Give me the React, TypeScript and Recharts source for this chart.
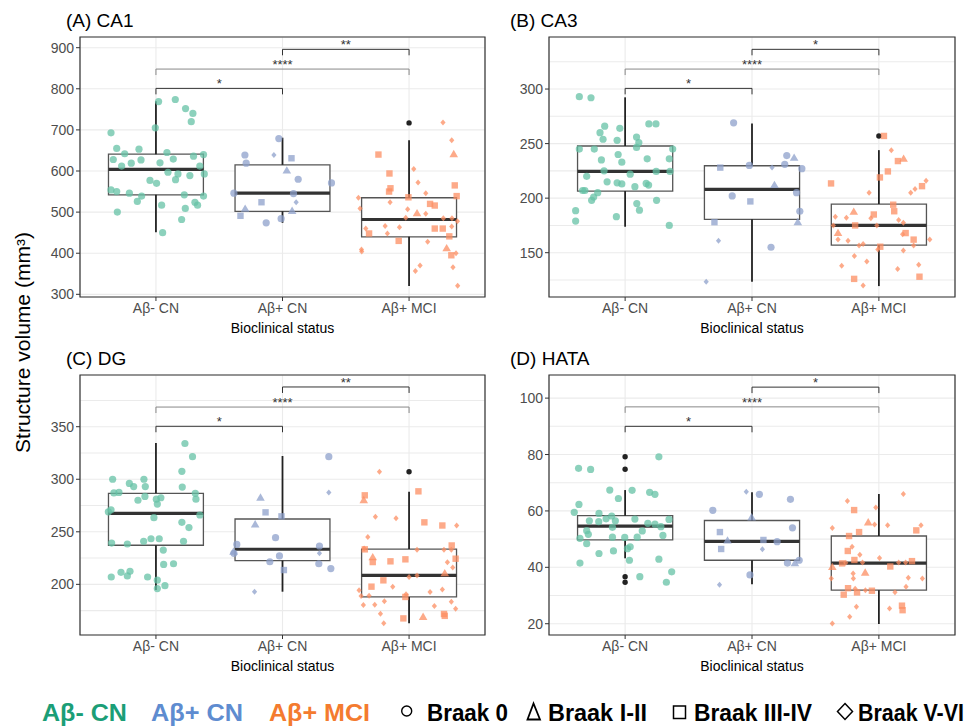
import React from 'react';
import {
  ComposedChart,
  Scatter,
  XAxis,
  YAxis,
  CartesianGrid,
  ReferenceArea,
  ReferenceLine,
  ReferenceDot
} from 'recharts';

const FONT = "'Liberation Sans', Arial, Helvetica, sans-serif";

const groups = ['Aβ- CN', 'Aβ+ CN', 'Aβ+ MCI'];
const pointColors = ['#66C2A5', '#8DA0CB', '#FC8D62'];
const legendColors = ['#1B9E77', '#5E8CD0', '#F47B2F'];
const braakLabels = ['Braak 0', 'Braak I-II', 'Braak III-IV', 'Braak V-VI'];
const pairs = [[1, 2], [1, 3], [2, 3]];

// points: [jitter, value, braak]  braak: 0 = 0, 1 = I-II, 2 = III-IV, 3 = V-VI
// stats: [lower whisker, q1, median, q3, upper whisker]

// (A) CA1
const ca1Cn = [
  [-0.355, 693, 0], [-0.31, 655, 0], [-0.337, 628, 0], [-0.247, 642, 0], [-0.134, 653, 0], [-0.271, 612, 0],
  [-0.195, 619, 0], [-0.118, 627, 0], [-0.355, 554, 0], [-0.31, 550, 0], [-0.21, 546, 0], [-0.113, 539, 0],
  [-0.147, 526, 0], [-0.305, 500, 0], [-0.047, 577, 0], [0.005, 570, 0], [0.021, 769, 0], [0.153, 774, 0],
  [0.234, 752, 0], [0.292, 740, 0], [0.279, 720, 0], [-0.005, 705, 0], [0.087, 645, 0], [0.032, 620, 0],
  [0.137, 629, 0], [0.095, 597, 0], [0.174, 593, 0], [0.155, 579, 0], [0.268, 589, 0], [0.297, 636, 0],
  [0.376, 640, 0], [0.347, 612, 0], [0.382, 593, 0], [0.224, 542, 0], [0.376, 539, 0], [0.308, 524, 0],
  [0.329, 517, 0], [0.232, 509, 0], [0.045, 517, 0], [0.203, 482, 0], [0.053, 450, 0]
];
const ca1PosCn = [
  [-0.297, 639, 0], [-0.287, 619, 0], [-0.384, 546, 0], [-0.332, 491, 2], [-0.295, 508, 1], [-0.166, 524, 2],
  [-0.129, 474, 0], [-0.068, 639, 3], [-0.029, 679, 0], [-0.011, 484, 0], [0.071, 631, 2], [0.034, 601, 1],
  [0.124, 580, 0], [0.087, 545, 0], [0.108, 524, 3], [0.076, 503, 1], [0.387, 571, 0]
];
const ca1Mci = [
  [-0.242, 640, 2], [-0.155, 594, 2], [-0.147, 558, 2], [-0.158, 550, 2], [-0.005, 536, 2], [0.037, 605, 3],
  [0.071, 572, 3], [0.132, 546, 3], [0.268, 718, 3], [0.337, 675, 3], [0.353, 641, 1], [0.361, 565, 2],
  [0.376, 539, 2], [0.166, 520, 2], [0.203, 516, 2], [0.063, 497, 1], [0.132, 496, 3], [-0.011, 507, 3],
  [-0.026, 486, 3], [-0.15, 524, 3], [-0.4, 535, 3], [-0.387, 509, 3], [-0.342, 460, 3], [-0.316, 448, 2],
  [-0.189, 466, 3], [-0.171, 448, 3], [-0.076, 463, 3], [-0.082, 430, 2], [0.147, 428, 3], [0.203, 460, 2],
  [0.266, 460, 2], [0.271, 485, 3], [0.339, 485, 3], [0.382, 478, 3], [0.337, 465, 3], [0.318, 441, 2],
  [0.297, 412, 1], [0.334, 395, 2], [0.371, 400, 3], [-0.376, 409, 3], [-0.374, 404, 3], [0.087, 370, 3],
  [0.05, 357, 3], [0.347, 366, 3], [0.384, 321, 3]
];
const ca1Stats = [[451, 542, 604, 641, 770], [474, 502, 546, 615, 681], [320, 440, 482, 535, 675]];
const ca1Outliers = [[3, 717]];
const ca1Sig = [801, 848, 896];
const ca1Stars = ['*', '****', '**'];
const ca1Major = [300, 400, 500, 600, 700, 800, 900];
const ca1Minor = [350, 450, 550, 650, 750, 850];

// (B) CA3
const ca3Cn = [
  [-0.361, 293, 0], [-0.269, 292, 0], [-0.39, 188.5, 0], [-0.39, 179, 0], [-0.361, 245, 0], [-0.243, 245, 0],
  [-0.161, 266, 0], [-0.198, 260, 0], [-0.174, 254, 0], [-0.187, 235, 0], [-0.042, 264, 0], [-0.063, 253, 0],
  [-0.055, 240, 0], [-0.026, 233, 0], [-0.166, 225, 0], [-0.303, 220, 0], [-0.335, 207, 0], [-0.317, 207, 0],
  [-0.142, 215, 0], [-0.063, 214, 0], [-0.026, 213, 0], [-0.216, 205, 0], [-0.248, 201, 0], [-0.264, 198, 0],
  [-0.069, 183, 0], [0.09, 256, 0], [0.108, 251, 0], [0.09, 246.5, 0], [0.187, 268, 0], [0.243, 268, 0],
  [0.174, 236, 0], [0.04, 222, 0], [0.077, 210.5, 0], [0.166, 213.5, 0], [0.185, 212, 0], [0.092, 195, 0],
  [0.113, 189, 0], [0.248, 198, 0], [0.348, 175, 0], [0.375, 245, 0], [0.348, 236, 0], [0.354, 224.5, 0],
  [0.245, 224.5, 0]
];
const ca3PosCn = [
  [-0.145, 269, 0], [-0.25, 228, 2], [-0.156, 202, 0], [-0.013, 197, 2], [-0.296, 178, 2], [-0.264, 161, 3],
  [-0.361, 123.4, 3], [-0.021, 230, 0], [0.158, 228, 3], [0.177, 212, 1], [0.15, 155, 0], [0.274, 239, 0],
  [0.258, 231, 0], [0.332, 237, 1], [0.393, 227, 0], [0.351, 205, 0], [0.377, 188, 0], [0.361, 178, 1]
];
const ca3Mci = [
  [-0.377, 213.5, 2], [0.04, 257, 2], [0.098, 244, 3], [0.15, 234, 2], [0.195, 236, 1], [0.071, 224.5, 2],
  [0.008, 219, 2], [-0.077, 205, 3], [0.113, 194, 2], [0.121, 188, 2], [-0.04, 185, 2], [-0.063, 181.5, 3],
  [-0.016, 175, 3], [-0.198, 187.5, 1], [-0.343, 183, 3], [-0.256, 182, 3], [-0.359, 175, 3], [-0.187, 175, 2],
  [-0.322, 168, 1], [-0.322, 162, 3], [-0.243, 161, 3], [-0.156, 156.5, 3], [-0.124, 158, 3], [-0.008, 153, 3],
  [0.011, 155.5, 2], [0.156, 180, 3], [0.193, 177.5, 3], [0.211, 168, 2], [0.187, 167, 3], [0.251, 205, 3],
  [0.285, 208.5, 3], [0.34, 211, 2], [0.372, 216, 3], [0.274, 162, 2], [0.274, 156.5, 3], [0.193, 152, 3],
  [0.401, 162, 3], [-0.193, 147, 3], [-0.095, 142, 3], [-0.293, 138, 3], [0.148, 135, 3], [0.314, 139, 3],
  [-0.195, 126, 2], [-0.124, 120, 3], [0.32, 128, 2]
];
const ca3Stats = [[173.8, 206.5, 224.5, 247.8, 292.4], [123.4, 180.6, 208, 229.7, 268.5], [119.4, 157, 175.1, 194.6, 244]];
const ca3Outliers = [[3, 256.9]];
const ca3Sig = [300.6, 318.3, 336.4];
const ca3Stars = ['*', '****', '*'];
const ca3Major = [150, 200, 250, 300];
const ca3Minor = [125, 175, 225, 275, 325];

// (C) DG
const dgCn = [
  [0.229, 334, 0], [0.289, 321.5, 0], [0.205, 307.5, 0], [0.208, 292.6, 0], [0.311, 286.6, 0], [0.316, 281, 0],
  [0.347, 266, 0], [0.261, 254, 0], [0.205, 259, 0], [0.218, 241, 0], [0.139, 219.6, 0], [0.061, 219, 0],
  [0.058, 232.6, 0], [0.026, 243.4, 0], [-0.039, 243.4, 0], [-0.097, 241, 0], [-0.226, 238.4, 0], [-0.35, 239.3, 0],
  [-0.016, 263.4, 0], [0.011, 276.4, 0], [0.003, 281, 0], [0.039, 282.4, 0], [-0.142, 280, 0], [-0.087, 283.7, 0],
  [-0.084, 293, 0], [-0.095, 300, 0], [-0.21, 296, 0], [-0.176, 293, 0], [-0.342, 300, 0], [-0.332, 287, 0],
  [-0.292, 287.5, 0], [-0.355, 271, 0], [-0.376, 269, 0], [-0.353, 207, 0], [-0.276, 211.4, 0], [-0.205, 212.4, 0],
  [-0.226, 208, 0], [-0.066, 207, 0], [0.011, 204, 0], [0.011, 196, 0], [0.071, 198.7, 0]
];
const dgPosCn = [
  [-0.174, 282.4, 1], [-0.134, 268.5, 2], [-0.216, 257, 1], [-0.008, 264.7, 2], [-0.361, 238, 0], [-0.387, 231, 1],
  [-0.384, 229.5, 0], [-0.055, 244.4, 0], [-0.1, 221.5, 0], [-0.024, 227, 0], [0.011, 213.6, 2], [-0.221, 193, 3],
  [0.366, 321.5, 0], [0.366, 287.5, 3], [0.292, 236.5, 0], [0.292, 229.5, 3], [0.287, 219.6, 0], [0.382, 215, 0]
];
const dgMci = [
  [-0.234, 307.2, 3], [0.074, 288.5, 2], [-0.35, 284.7, 2], [-0.358, 280, 1], [-0.266, 264.4, 3], [-0.103, 262.8, 3],
  [0.121, 259, 2], [0.263, 256, 2], [0.376, 256, 3], [-0.326, 245, 3], [-0.355, 234, 3], [-0.35, 233.3, 2],
  [0.337, 237, 2], [0.368, 224.4, 2], [0.063, 233, 3], [0.276, 233, 3], [0.334, 233, 3], [-0.287, 225.7, 1],
  [-0.287, 221.2, 2], [-0.147, 221.9, 2], [-0.029, 223.8, 2], [0.303, 221, 3], [0.345, 216, 3], [0.282, 210.5, 1],
  [0, 207, 3], [0.063, 208.5, 3], [-0.203, 203.8, 2], [-0.297, 197.8, 2], [-0.129, 197.8, 3], [-0.395, 194.3, 3],
  [-0.379, 189, 3], [-0.316, 189.2, 3], [-0.024, 190.5, 3], [0.166, 192.7, 3], [0.263, 195.2, 3], [-0.029, 188, 2],
  [-0.361, 180.3, 3], [-0.271, 180.6, 3], [-0.195, 183.8, 3], [0.2, 179.4, 3], [0.334, 183.5, 3], [0.368, 176.8, 3],
  [-0.226, 172, 3], [-0.045, 167.6, 2], [0.111, 169, 1], [0.276, 171.8, 2], [0.282, 170, 2], [-0.2, 163, 3]
];
const dgStats = [[194.6, 237.2, 267.6, 286.6, 334.5], [193, 222.6, 233.4, 262.2, 322.1], [163, 188, 208.6, 233.6, 288.2]];
const dgOutliers = [[3, 307.2]];
const dgSig = [350.4, 368.7, 387.8];
const dgStars = ['*', '****', '**'];
const dgMajor = [200, 250, 300, 350];
const dgMinor = [175, 225, 275, 325, 375];

// (D) HATA
const hataCn = [
  [-0.367, 75.1, 0], [-0.272, 74.7, 0], [0.266, 79.2, 0], [-0.121, 67.4, 0], [0.055, 67.3, 0], [-0.053, 64.4, 0],
  [0.193, 66.6, 0], [0.235, 65.9, 0], [-0.364, 62.3, 0], [-0.401, 59.5, 0], [-0.206, 59.1, 0], [-0.282, 56.5, 0],
  [-0.208, 56.2, 0], [-0.15, 57.2, 0], [-0.106, 58.2, 0], [-0.077, 56.5, 0], [-0.1, 54.2, 0], [0.077, 57.1, 0],
  [0.179, 55.6, 0], [0.235, 55.3, 0], [0.282, 54.4, 0], [0.346, 57, 0], [-0.303, 53, 0], [-0.29, 51.7, 0],
  [0.135, 52.9, 0], [0.298, 51.3, 0], [-0.356, 50.3, 0], [-0.1, 50.7, 0], [-0.003, 50.6, 0], [0.095, 50.7, 0],
  [-0.303, 48.4, 0], [0.04, 47.3, 0], [0.018, 46.6, 0], [-0.206, 44.9, 0], [-0.092, 45.8, 0], [0.034, 42.5, 0],
  [0.266, 42.9, 0], [-0.356, 41.5, 0], [0.367, 38.4, 0], [0.116, 36.7, 0], [0.325, 34.7, 0]
];
const hataPosCn = [
  [-0.309, 60.2, 0], [-0.253, 52.5, 2], [-0.193, 49.5, 1], [-0.243, 46.5, 2], [-0.256, 33.8, 3], [-0.045, 66.8, 3],
  [0.058, 65.9, 0], [-0.003, 57.7, 1], [-0.016, 37.3, 0], [0.09, 49.7, 2], [0.082, 46.4, 3], [0.198, 49.1, 0],
  [0.303, 64.1, 0], [0.319, 54, 0], [0.279, 41.5, 0], [0.338, 41.4, 1], [0.372, 42.5, 0]
];
const hataMci = [
  [-0.248, 63.5, 3], [-0.195, 60.3, 2], [0.193, 66, 3], [-0.024, 61.2, 3], [-0.084, 55.9, 1], [-0.034, 55.2, 3],
  [0.069, 54.9, 3], [0.332, 54.9, 3], [0.295, 53.1, 2], [-0.367, 53.9, 3], [-0.235, 51.1, 2], [-0.156, 52.5, 2],
  [-0.211, 47.3, 3], [-0.245, 45.8, 2], [-0.15, 44.5, 3], [-0.193, 42.6, 2], [0.005, 43.3, 3], [-0.129, 41.7, 3],
  [-0.29, 41.4, 2], [-0.261, 41.6, 3], [-0.367, 40.1, 1], [0.09, 40.3, 2], [0.156, 41.7, 3], [0.211, 41.7, 3],
  [0.261, 42.2, 2], [-0.108, 38.1, 1], [-0.203, 37.8, 3], [-0.201, 36, 3], [-0.375, 36, 3], [0.232, 36.3, 3],
  [0.343, 36, 3], [-0.243, 32.6, 2], [-0.187, 32.4, 3], [-0.172, 31.1, 2], [-0.106, 31.9, 3], [-0.055, 31.7, 2],
  [-0.277, 30.3, 2], [0.214, 33.1, 3], [0.127, 31.2, 3], [-0.177, 26, 3], [-0.23, 22.5, 3], [0.084, 25.4, 3],
  [0.182, 26.4, 2], [0.187, 24.8, 2], [-0.367, 20.1, 3]
];
const hataStats = [[43.2, 49.7, 54.6, 58.3, 67.4], [34, 42.5, 49.2, 56.6, 66.6], [19.9, 31.9, 41.5, 51.1, 66]];
const hataOutliers = [[1, 79.2], [1, 74.8], [1, 36.7], [1, 34.7]];
const hataSig = [90, 96.9, 103.9];
const hataStars = ['*', '****', '*'];
const hataMajor = [20, 40, 60, 80, 100];
const hataMinor = [30, 50, 70, 90];

const markShape = (color: string) => (p: any) => {
  const { cx, cy, payload } = p;
  const st = { fill: color, fillOpacity: 0.75 };
  if (payload.b === 0) return <circle cx={cx} cy={cy} r={3.6} {...st} />;
  if (payload.b === 1)
    return <polygon points={`${cx},${cy - 4.4} ${cx - 4.3},${cy + 3} ${cx + 4.3},${cy + 3}`} {...st} />;
  if (payload.b === 2) return <rect x={cx - 3.2} y={cy - 3.2} width={6.4} height={6.4} {...st} />;
  return <polygon points={`${cx},${cy - 3} ${cx + 2.6},${cy} ${cx},${cy + 3} ${cx - 2.6},${cy}`} {...st} />;
};

const outlierShape = (p: any) => <circle cx={p.cx} cy={p.cy} r={2.7} fill="#222" />;

function YTick(props: any) {
  const { x, y, payload, majors } = props;
  if (!majors.includes(payload.value)) return <g />;
  return (
    <g>
      <line x1={x + 2} x2={x + 6} y1={y} y2={y} stroke="#333" strokeWidth={1} />
      <text x={x} y={y} dy="0.36em" textAnchor="end" fontSize={14} fill="#4d4d4d" fontFamily={FONT}>
        {payload.value}
      </text>
    </g>
  );
}

function Panel(props: any) {
  const { left, top, width, yWidth, domain, majors, minors, pts, stats, outliers, sig, stars } = props;
  const ticks = [...majors, ...minors].sort((a: number, b: number) => a - b);
  const tk = (domain[1] - domain[0]) * 0.023;
  const hw = 0.375;
  const series = pts.map((arr: number[][], g: number) =>
    arr.map(([j, v, b]) => ({ x: g + 1 + j, y: v, b }))
  );
  const outData = outliers.map(([g, v]: number[]) => ({ x: g, y: v }));

  return (
    <div style={{ position: 'absolute', left, top, width, height: 310 }}>
      <ComposedChart width={width} height={310} margin={{ top: 7, right: 5, left: 0, bottom: 0 }} style={{ fontFamily: FONT }}>
        <CartesianGrid stroke="#ebebeb" strokeWidth={1.1} />
        <XAxis
          type="number"
          dataKey="x"
          domain={[0.4, 3.6]}
          ticks={[1, 2, 3]}
          allowDataOverflow
          axisLine={false}
          tickSize={4}
          tickLine={{ stroke: '#333' }}
          tick={{ fontSize: 14, fill: '#4d4d4d' }}
          tickFormatter={(v: number) => groups[v - 1]}
          height={43}
          label={{ value: 'Bioclinical status', position: 'insideBottom', offset: 7, fontSize: 14, fill: '#000' }}
        />
        <YAxis
          type="number"
          dataKey="y"
          domain={domain}
          ticks={ticks}
          allowDataOverflow
          axisLine={false}
          tickLine={false}
          tickSize={4}
          tickMargin={2}
          width={yWidth}
          tick={(p: any) => <YTick {...p} majors={majors} />}
        />
        <ReferenceArea x1={0.4} x2={3.6} y1={domain[0]} y2={domain[1]} fill="none" stroke="#333" strokeWidth={1.2} ifOverflow="visible" />
        {stats.map((s: number[], g: number) => (
          <ReferenceArea
            key={`box-${g}`}
            x1={g + 1 - hw}
            x2={g + 1 + hw}
            y1={s[1]}
            y2={s[3]}
            fill="#fff"
            fillOpacity={1}
            stroke="#555"
            strokeWidth={1.3}
            ifOverflow="visible"
          />
        ))}
        {stats.map((s: number[], g: number) => (
          <ReferenceLine key={`wu-${g}`} segment={[{ x: g + 1, y: s[3] }, { x: g + 1, y: s[4] }]} stroke="#222" strokeWidth={1.8} ifOverflow="visible" />
        ))}
        {stats.map((s: number[], g: number) => (
          <ReferenceLine key={`wl-${g}`} segment={[{ x: g + 1, y: s[0] }, { x: g + 1, y: s[1] }]} stroke="#222" strokeWidth={1.8} ifOverflow="visible" />
        ))}
        {stats.map((s: number[], g: number) => (
          <ReferenceLine key={`md-${g}`} segment={[{ x: g + 1 - hw, y: s[2] }, { x: g + 1 + hw, y: s[2] }]} stroke="#333" strokeWidth={3.2} ifOverflow="visible" />
        ))}
        <Scatter data={outData} shape={outlierShape} isAnimationActive={false} />
        {series.map((d: any[], g: number) => (
          <Scatter key={`pts-${g}`} data={d} fill={pointColors[g]} shape={markShape(pointColors[g])} isAnimationActive={false} />
        ))}
        {pairs.map(([a, b], i) => {
          const c = i === 1 ? '#888' : '#333';
          return [
            <ReferenceLine key={`bh-${i}`} segment={[{ x: a, y: sig[i] }, { x: b, y: sig[i] }]} stroke={c} strokeWidth={1} ifOverflow="visible" />,
            <ReferenceLine key={`bl-${i}`} segment={[{ x: a, y: sig[i] }, { x: a, y: sig[i] - tk }]} stroke={c} strokeWidth={1} ifOverflow="visible" />,
            <ReferenceLine key={`br-${i}`} segment={[{ x: b, y: sig[i] }, { x: b, y: sig[i] - tk }]} stroke={c} strokeWidth={1} ifOverflow="visible" />,
            <ReferenceDot
              key={`bs-${i}`}
              x={(a + b) / 2}
              y={sig[i]}
              r={0}
              fill="none"
              stroke="none"
              ifOverflow="visible"
              label={{ value: stars[i], position: 'top', offset: 0, fontSize: 13, fill: '#333' }}
            />
          ];
        })}
      </ComposedChart>
    </div>
  );
}

const legendItems = [
  { text: groups[0], x: 42, w: 85, color: legendColors[0] },
  { text: groups[1], x: 151, w: 92, color: legendColors[1] },
  { text: groups[2], x: 269, w: 101, color: legendColors[2] },
  { text: braakLabels[0], x: 427, w: 81, color: '#000' },
  { text: braakLabels[1], x: 548, w: 99, color: '#000' },
  { text: braakLabels[2], x: 694, w: 118, color: '#000' },
  { text: braakLabels[3], x: 858, w: 106, color: '#000' }
];

export default function App() {
  return (
    <div style={{ position: 'absolute', left: 0, top: 0, width: 978, height: 727, background: '#fff', fontFamily: FONT }}>
      <Panel left={0} top={30} width={490} yWidth={80} domain={[293.5, 926]} majors={ca1Major} minors={ca1Minor}
        pts={[ca1Cn, ca1PosCn, ca1Mci]} stats={ca1Stats} outliers={ca1Outliers} sig={ca1Sig} stars={ca1Stars} />
      <Panel left={490} top={30} width={470} yWidth={59} domain={[109.4, 347.7]} majors={ca3Major} minors={ca3Minor}
        pts={[ca3Cn, ca3PosCn, ca3Mci]} stats={ca3Stats} outliers={ca3Outliers} sig={ca3Sig} stars={ca3Stars} />
      <Panel left={0} top={368} width={490} yWidth={80} domain={[151.8, 399.2]} majors={dgMajor} minors={dgMinor}
        pts={[dgCn, dgPosCn, dgMci]} stats={dgStats} outliers={dgOutliers} sig={dgSig} stars={dgStars} />
      <Panel left={490} top={368} width={470} yWidth={59} domain={[16, 108.2]} majors={hataMajor} minors={hataMinor}
        pts={[hataCn, hataPosCn, hataMci]} stats={hataStats} outliers={hataOutliers} sig={hataSig} stars={hataStars} />

      <svg width={978} height={727} style={{ position: 'absolute', left: 0, top: 0, pointerEvents: 'none' }}>
        <g fontFamily={FONT} fontSize={19} fill="#000">
          <text x={66} y={26.5}>(A) CA1</text>
          <text x={510} y={26.5}>(B) CA3</text>
          <text x={66} y={364.5}>(C) DG</text>
          <text x={510} y={364.5}>(D) HATA</text>
        </g>
        <text x={30} y={342.5} transform="rotate(-90, 30, 342.5)" textAnchor="middle" fontFamily={FONT} fontSize={19.5} fill="#000"
          textLength={221} lengthAdjust="spacingAndGlyphs">
          Structure volume (mm³)
        </text>
        {legendItems.map((it) => (
          <text key={it.text} x={it.x} y={721} fontFamily={FONT} fontWeight="bold" fontSize={24} fill={it.color}
            textLength={it.w} lengthAdjust="spacingAndGlyphs">
            {it.text}
          </text>
        ))}
        <circle cx={406.7} cy={711} r={5} fill="none" stroke="#000" strokeWidth={1.4} />
        <polygon points="533.5,703.5 527.5,719.5 540,719.5" fill="none" stroke="#000" strokeWidth={1.8} />
        <rect x={673.5} y={706} width={12} height={12.5} fill="none" stroke="#000" strokeWidth={1.5} />
        <polygon points="845,703.5 852.5,711.5 845,719.5 837.5,711.5" fill="none" stroke="#000" strokeWidth={1.5} />
      </svg>
    </div>
  );
}
